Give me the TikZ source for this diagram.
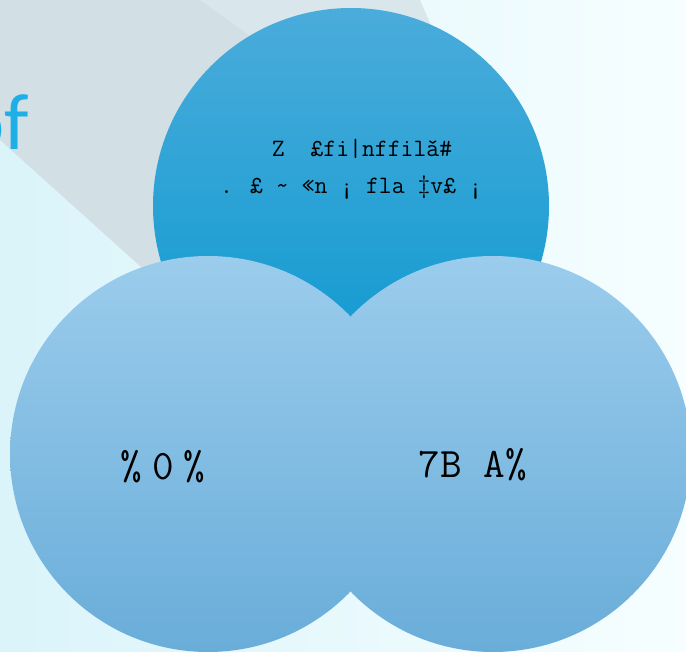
\documentclass[tikz,border=0pt]{standalone}
\usepackage{fontspec}
\setmainfont{Latin Modern Mono}
\newfontfamily\titelschrift{Carlito}

\definecolor{hgGrau}{HTML}{D2DFE5}
\definecolor{hgGrauHell}{HTML}{D9E7ED}
\definecolor{hgCyan}{HTML}{DAF4FA}
\definecolor{hgWeiss}{HTML}{F6FEFF}
\definecolor{obenHell}{HTML}{4AACDB}
\definecolor{obenDunkel}{HTML}{0A98CF}
\definecolor{untenHell}{HTML}{9BCCEC}
\definecolor{untenMitte}{HTML}{82C4EC}
\definecolor{untenDunkel}{HTML}{69ADD9}
\definecolor{titelblau}{HTML}{1EAFE7}

\tikzset{
    kreis/.style={circle, minimum size=396pt, inner sep=0pt},
    kreisoben/.style={kreis, top color=obenHell, bottom color=obenDunkel},
    kreisunten/.style={kreis, top color=untenHell, middle color=untenMitte, bottom color=untenDunkel},
}

\begin{document}
\begin{tikzpicture}[x=1pt, y=-1pt]

        \useasboundingbox (0,0) rectangle (686,652);
        \clip (0,0) rectangle (686,652);

        % Hintergrund
        \shade[left color=hgCyan, right color=hgWeiss] (0,0) rectangle (686,652);
        \fill[hgGrauHell] (200,0) -- (420,0) -- (520,230) -- cycle;
        \fill[hgGrau] (0,0) -- (200,0) -- (520,230) -- (400,500) -- (0,140) -- cycle;
        \node [anchor=base east, inner sep=0pt, text=titelblau] (titel) at (29,150) {\titelschrift\fontsize{80}{80}\selectfont of};

        % Kreise
        \node [kreisoben] (oben) at (351,206) {};
        \node [kreisunten] (links) at (208,454) {};
        \node [kreisunten] (rechts) at (493,454) {};

        % Beschriftungen
        \node [anchor=base, inner sep=0pt] (zeileeins) at ([xshift=11pt, yshift=49pt]oben.center) {\fontsize{25}{25}\selectfont Z\ \ £fi|nffilǎ\#};
        \node [anchor=base, inner sep=0pt] (zeilezwei) at ([yshift=12pt]oben.center) {\fontsize{25}{25}\selectfont . £ \textasciitilde\ «n ¡ fla ‡v£ ¡};
        \node [anchor=base, inner sep=0pt] (textlinks) at ([xshift=-45pt, yshift=-25pt]links.center) {\fontsize{42}{42}\selectfont \%\hspace{10pt}0\hspace{10pt}\%};
        \node [anchor=base, inner sep=0pt] (textrechts) at ([xshift=-20pt, yshift=-24pt]rechts.center) {\fontsize{42}{42}\selectfont 7B A\%};

\end{tikzpicture}
\end{document}
